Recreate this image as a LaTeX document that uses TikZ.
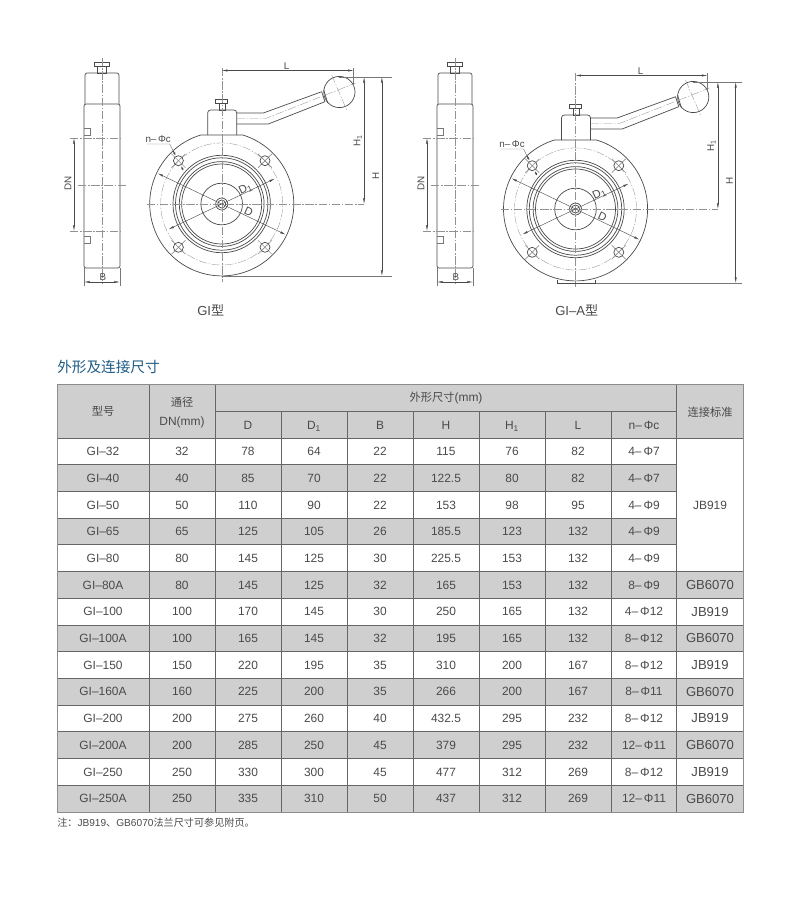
\documentclass[tikz,border=0pt]{standalone}
\usepackage{fontspec}
\setmainfont{Liberation Sans}
\newfontfamily\cjk{Noto Sans CJK SC}
\usepackage{xcolor}
\usepackage{tikz}
\usetikzlibrary{arrows.meta}
\usetikzlibrary{positioning}
\definecolor{mytextcolor}{HTML}{4A4A4A}
\definecolor{myinkcolor}{HTML}{4A4A4A}
\definecolor{mygridcolor}{HTML}{666666}
\definecolor{myshadecolor}{HTML}{CFCFCF}
\definecolor{mytitlecolor}{HTML}{1F5C85}
\tikzset{
  outline/.style={draw=myinkcolor, line width=0.5pt},
  centerline/.style={draw=myinkcolor!60, line width=0.25pt, dash pattern=on 6pt off 1.2pt on 1pt off 1.2pt},
  thinline/.style={draw=myinkcolor!75, line width=0.3pt},
  dimline/.style={draw=myinkcolor, line width=0.3pt, <->, >={Latex[length=4pt,width=1.5pt]}},
  dimlabel/.style={text=mytextcolor, inner sep=0pt, font=\fontsize{7}{8}\selectfont},
  cell/.style={text=mytextcolor, inner sep=0pt, text height=6pt, text depth=0pt, font=\fontsize{8.5}{10}\selectfont},
  cjkcell/.style={text=mytextcolor, inner sep=0pt, font=\fontsize{8}{10}\selectfont\cjk},
  bigcell/.style={text=mytextcolor, inner sep=0pt, font=\fontsize{9.3}{11}\selectfont},
  gridline/.style={draw=mygridcolor, line width=0.65pt},
}
\begin{document}
\begin{tikzpicture}[x=0.025cm,y=-0.025cm]
\useasboundingbox (0,0) rectangle (800,903);

\foreach \sx/\tag in {102/a,455/b} {
\begin{scope}[shift={(\sx,0)}]
\draw[outline] (-8,62) rectangle (7,66);
\draw[outline] (-5,66) rectangle (4,73);
\draw[outline, rounded corners=1.5pt] (-17,104) -- (-17,73) -- (17,73) -- (17,104);
\draw[outline, rounded corners=1.5pt] (-18,104) -- (-18,268) -- (18,268) -- (18,104) -- cycle;
\draw[thinline] (-18,128) -- (-12,128) -- (-12,135) -- (-18,135);
\draw[thinline] (-18,236) -- (-12,236) -- (-12,243) -- (-18,243);
\draw[centerline] (0,58) -- (0,284);
\draw[centerline] (-24,185) -- (24,185);
\draw[centerline] (-32,138) -- (18,138);
\draw[centerline] (-32,231) -- (18,231);
\draw[dimline] (-28,138) -- (-28,231);
\draw[thinline] (-18,268) -- (-18,286);
\draw[thinline] (18,268) -- (18,286);
\draw[dimline] (-18,282) -- (18,282);
\node[dimlabel, rotate=90] (dn\tag) at (-34,183) {DN};
\node[dimlabel] (b\tag) at (1,277) {B};
\end{scope}
}

\foreach \ox/\oy/\hb/\he/\tag in {221.7/204/72/170/a,575.5/209/74/166.5/b} {
\begin{scope}[shift={(\ox,\oy)}]
\draw[outline] (-6,-105) rectangle (6,-101);
\draw[outline] (-2.5,-101) rectangle (3.5,-94);
\draw[outline, rounded corners=2pt] (-14,-69) -- (-14,-94) -- (15,-94) -- (15,-69);
\draw[outline] (21,-69) -- (-21,-69) arc[start angle=107, end angle=433, radius=1.8cm];
\draw[outline] (15,-91) -- (41.6,-91) -- (100,-112.3);
\draw[outline] (15,-80) -- (46.6,-80) -- (103.3,-102.3);
\draw[outline] (100,-112.3) -- (103.3,-102.3);
\draw[outline] (102,-114) -- (106,-101);
\draw[outline] (117.7,-112) circle (0.39cm);
\draw[centerline] (15,-85.5) -- (44,-85.5) -- (134,-121);
\draw[centerline] (110,-129) -- (125,-94);
\draw[centerline] (0,0) circle (1.525cm);
\foreach \r in {1.2175cm,1.155cm,1.06cm,1cm,0.52cm,0.15cm,0.1cm} {
\draw[outline] (0,0) circle (\r);
}
\foreach \bx/\by in {-43.3/-43.3,43.3/-43.3,-43.3/43.3,43.3/43.3} {
\draw[outline] (\bx,\by) circle (0.125cm);
\draw[thinline] ({\bx-7},{\by-7}) -- ({\bx+7},{\by+7});
\draw[thinline] ({\bx-7},{\by+7}) -- ({\bx+7},{\by-7});
}
\draw[centerline] (-75,0) -- (142,0);
\draw[centerline] (0,-136) -- (0,78);
\draw[dimline] ({-71*cos(25.6)},{-71*sin(25.6)}) -- ({71*cos(25.6)},{71*sin(25.6)});
\draw[dimline] ({-59*cos(25.5)},{59*sin(25.5)}) -- ({59*cos(25.5)},{-59*sin(25.5)});
\node[dimlabel, rotate=-25, font=\fontsize{8}{9}\selectfont] (d\tag) at (27,8) {D};
\node[dimlabel, rotate=25, font=\fontsize{8}{9}\selectfont] (done\tag) at (24,-15) {D\textsubscript{1}};
\draw[thinline] (132,-136) -- (132,-118);
\draw[dimline] (0,-133.5) -- (132,-133.5);
\node[dimlabel] (l\tag) at (65,-138) {L};
\draw[thinline] (117,-127) -- (\he,-127);
\draw[dimline] (142.4,-127) -- (142.4,0);
\node[dimlabel, rotate=90] (hone\tag) at (136,-63) {H\textsubscript{1}};
\draw[dimline] (160.2,-127) -- (160.2,\hb);
\node[dimlabel, rotate=90] (h\tag) at (154,-28) {H};
\draw[thinline] (0,\hb) -- (\he,\hb);
\draw[thinline] (-75,-60) -- (-52,-60) -- (-48.4,-53);
\draw[line width=0.7pt, draw=myinkcolor, ->, >={Latex[length=3pt,width=1.5pt]}] (-48.4,-53) -- (-45.6,-47.6);
\draw[line width=0.7pt, draw=myinkcolor, ->, >={Latex[length=3pt,width=1.5pt]}] (-38.7,-34) -- (-41,-38.8);
\node[dimlabel] (nc\tag) at (-63.5,-65) {n–\,Φc};
\end{scope}
}
\draw[outline] (557.7,280) -- (557.7,283.3) -- (595,283.3) -- (595,280);

\node[bigcell] (typea) at (210.7,310) {GI{\cjk 型}};
\node[bigcell] (typeb) at (576.7,310) {GI–A{\cjk 型}};
\node[anchor=west, inner sep=0pt, text=mytitlecolor, font=\fontsize{10.4}{12}\selectfont\cjk] (title) at (57,367) {外形及连接尺寸};

\fill[myshadecolor] (57,384) rectangle (743,438);
\foreach \r in {2,4} {
\fill[myshadecolor] (57,{438+26.71*(\r-1)}) rectangle (676,{438+26.71*\r});
}
\foreach \r in {6,8,...,14} {
\fill[myshadecolor] (57,{438+26.71*(\r-1)}) rectangle (743,{438+26.71*\r});
}
\foreach \r in {0,...,5} {
\draw[gridline] (57,{438+26.71*\r}) -- (676,{438+26.71*\r});
}
\foreach \r in {5,...,13} {
\draw[gridline] (57,{438+26.71*\r}) -- (743,{438+26.71*\r});
}
\draw[gridline] (57,438) -- (743,438);
\draw[gridline] (215,411) -- (676,411);
\foreach \cx in {149,215,676} {
\draw[gridline] (\cx,384) -- (\cx,812);
}
\foreach \cx in {281,347,413,479,545,611} {
\draw[gridline] (\cx,411) -- (\cx,812);
}
\draw[gridline, draw=mygridcolor!75] (57,384) rectangle (743,812);

\node[cjkcell] (model) at (103,411.5) {型号};
\node[cjkcell] (bore) at (182,402) {通径};
\node[cell] (boreunit) at (182,421) {DN(mm)};
\node[cell] (shape) at (446,397) {{\cjk\fontsize{8}{10}\selectfont 外形尺寸}(mm)};
\node[cjkcell] (standard) at (710,412) {连接标准};
\foreach \cx/\txt/\tag in {248/D/d,314/D\textsubscript{1}/done,380/B/b,446/H/h,512/H\textsubscript{1}/hone,578/L/l,644/n–\,Φc/nc} {
\node[cell] (head\tag) at (\cx,425) {\txt};
}
\node[cell] (merged) at (710,505) {JB919};

\foreach \mdl/\dn/\dd/\done/\bb/\hh/\hone/\ll/\nc/\std [count=\r] in {
GI–32/32/78/64/22/115/76/82/4–\,Φ7/,
GI–40/40/85/70/22/122.5/80/82/4–\,Φ7/,
GI–50/50/110/90/22/153/98/95/4–\,Φ9/,
GI–65/65/125/105/26/185.5/123/132/4–\,Φ9/,
GI–80/80/145/125/30/225.5/153/132/4–\,Φ9/,
GI–80A/80/145/125/32/165/153/132/8–\,Φ9/GB6070,
GI–100/100/170/145/30/250/165/132/4–\,Φ12/JB919,
GI–100A/100/165/145/32/195/165/132/8–\,Φ12/GB6070,
GI–150/150/220/195/35/310/200/167/8–\,Φ12/JB919,
GI–160A/160/225/200/35/266/200/167/8–\,Φ11/GB6070,
GI–200/200/275/260/40/432.5/295/232/8–\,Φ12/JB919,
GI–200A/200/285/250/45/379/295/232/12–\,Φ11/GB6070,
GI–250/250/330/300/45/477/312/269/8–\,Φ12/JB919,
GI–250A/250/335/310/50/437/312/269/12–\,Φ11/GB6070} {
\node[cell] (mdl\r) at (103,{438+26.71*(\r-0.5)}) {\mdl};
\node[cell] (dn\r) at (182,{438+26.71*(\r-0.5)}) {\dn};
\node[cell] (dd\r) at (248,{438+26.71*(\r-0.5)}) {\dd};
\node[cell] (done\r) at (314,{438+26.71*(\r-0.5)}) {\done};
\node[cell] (bb\r) at (380,{438+26.71*(\r-0.5)}) {\bb};
\node[cell] (hh\r) at (446,{438+26.71*(\r-0.5)}) {\hh};
\node[cell] (hone\r) at (512,{438+26.71*(\r-0.5)}) {\hone};
\node[cell] (ll\r) at (578,{438+26.71*(\r-0.5)}) {\ll};
\node[cell] (nc\r) at (644,{438+26.71*(\r-0.5)}) {\nc};
\node[bigcell] (std\r) at (710,{438+26.71*(\r-0.5)}) {\std};
}
\node[anchor=west, inner sep=0pt, text=mytextcolor, font=\fontsize{7.2}{9}\selectfont] (note) at (57,823) {{\cjk 注：}JB919{\cjk 、}GB6070{\cjk 法兰尺寸可参见附页。}};
\end{tikzpicture}
\end{document}
